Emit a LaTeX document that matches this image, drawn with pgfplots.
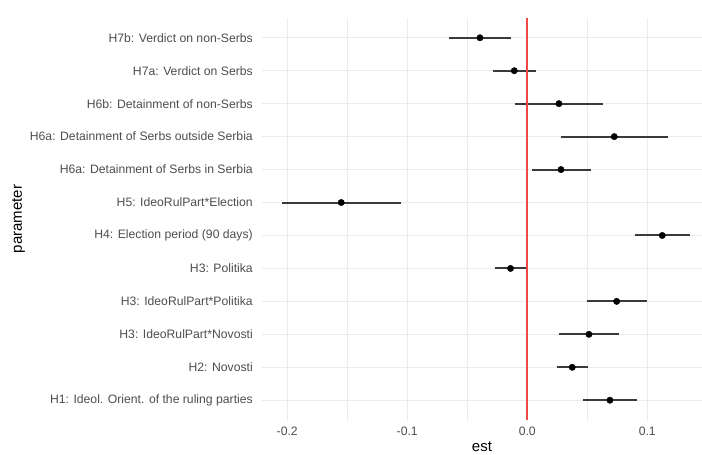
\documentclass[border=0pt]{standalone}
\usepackage{pgfplots}
\usepackage{pgfplotstable}
\pgfplotsset{compat=1.18}
\usepackage{fontspec}
\setmainfont{Liberation Sans}
\definecolor{gridc}{HTML}{EBEBEB}
\definecolor{txtc}{HTML}{4D4D4D}
\definecolor{redl}{HTML}{EE4A46}
\definecolor{barc}{HTML}{3A3A3A}
\pgfplotstableread{
y est lo hi
12 -0.0394 -0.0650 -0.0136
11 -0.0108 -0.0283 0.0070
10 0.0264 -0.0100 0.0628
9 0.0725 0.0283 0.1170
8 0.0281 0.0036 0.0531
7 -0.1550 -0.2047 -0.1050
6 0.1125 0.0895 0.1356
5 -0.0139 -0.0267 -0.0010
4 0.0745 0.0495 0.0998
3 0.0514 0.0264 0.0764
2 0.0375 0.0245 0.0508
1 0.0689 0.0467 0.0911
}\data
\begin{document}
\begin{tikzpicture}
\begin{axis}[
  name=ax,
  scale only axis,
  width=440pt, height=402pt,
  xmin=-0.221, xmax=0.1456,
  ymin=0.4, ymax=12.6,
  axis line style={draw=none},
  tick style={draw=none},
  xtick={-0.2,-0.1,0,0.1},
  xticklabels={-0.2,-0.1,0.0,0.1},
  minor xtick={-0.15,-0.05,0.05},
  ytick={1,...,12},
  yticklabels={
    H1: Ideol. Orient. of the ruling parties,
    H2: Novosti,
    H3: IdeoRulPart*Novosti,
    H3: IdeoRulPart*Politika,
    H3: Politika,
    H4: Election period (90 days),
    H5: IdeoRulPart*Election,
    H6a: Detainment of Serbs in Serbia,
    H6a: Detainment of Serbs outside Serbia,
    H6b: Detainment of non-Serbs,
    H7a: Verdict on Serbs,
    H7b: Verdict on non-Serbs},
  xmajorgrids, xminorgrids, ymajorgrids,
  major grid style={draw=gridc, line width=1.1pt},
  minor grid style={draw=gridc, line width=0.6pt},
  tick label style={font=\fontsize{12.2}{14}\selectfont, text=txtc, inner sep=0pt},
  yticklabel style={anchor=east, xshift=-9pt},
  xticklabel style={anchor=north, yshift=-7pt},
  xlabel={est},
  ylabel={parameter},
  label style={font=\fontsize{15}{17}\selectfont, text=black, inner sep=0pt},
  xlabel style={at={(axis description cs:0.5,0)}, anchor=base, yshift=-32pt},
  ylabel style={at={(axis description cs:0,0.5)}, anchor=base, yshift=240pt},
  clip=false,
]
\addplot[draw=none, mark=none, error bars/.cd, x dir=both, x explicit,
  error mark=none, error bar style={draw=barc, line width=2.0pt}]
  table[x=est, y=y, x error plus expr=\thisrow{hi}-\thisrow{est}, x error minus expr=\thisrow{est}-\thisrow{lo}] {\data};
\addplot[color=redl, line width=1.8pt, mark=none] coordinates {(0,0.4) (0,12.6)};
\addplot[only marks, mark=*, mark size=3.2pt, mark options={fill=black, draw=black}]
  table[x=est, y=y] {\data};
\end{axis}
\pgfresetboundingbox
\path[use as bounding box] ([xshift=-262pt,yshift=-35pt]ax.south west) rectangle ([yshift=18pt]ax.north east);
\end{tikzpicture}
\end{document}
